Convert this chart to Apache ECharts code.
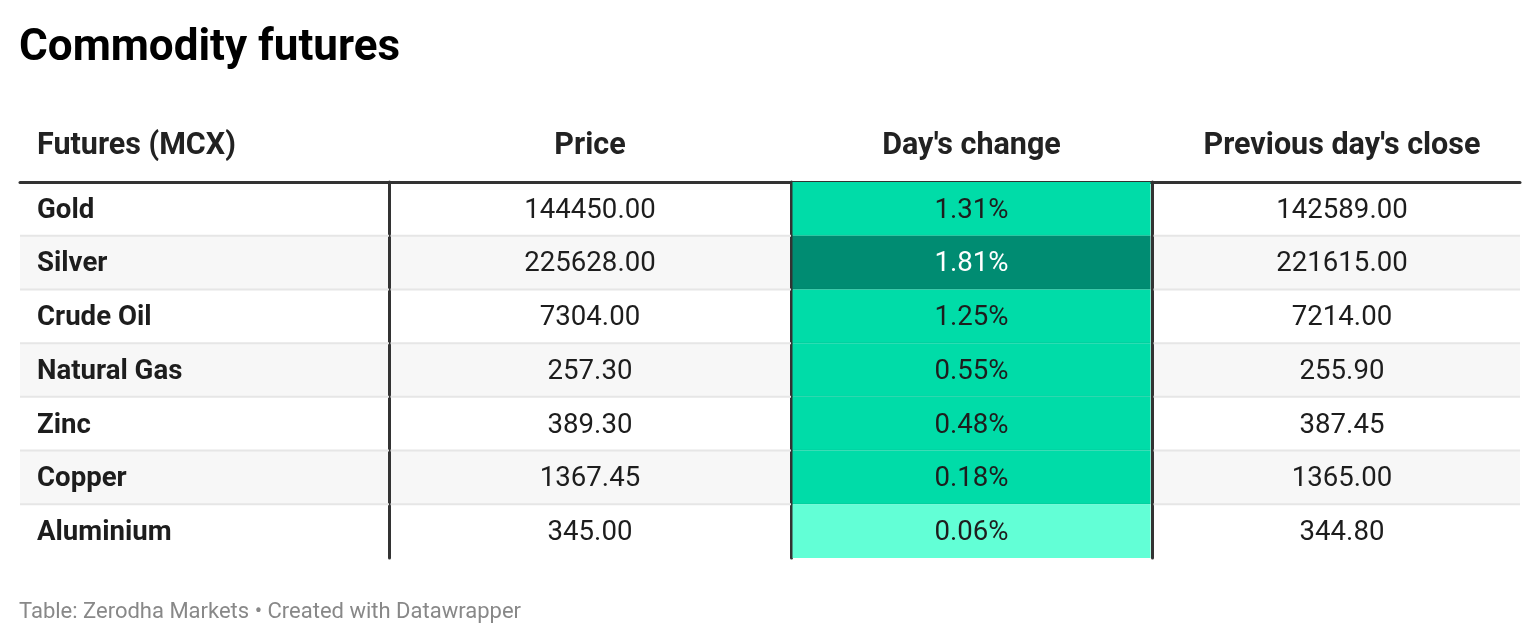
<!DOCTYPE html>
<html>
  <head>
    <meta http-equiv="Content-Type" content="text/html; charset=utf-8">
    <title>Commodity futures</title>
    <style>
      html, body { margin: 0; padding: 0; background: #fff; }
      #chart { width: 1540px; height: 644px; }
    </style>
    <script src="https://cdn.jsdelivr.net/npm/echarts@6/dist/echarts.min.js"></script>
  </head>
  <body>
    <div id="chart"></div>
    <script type="text/javascript">
      var columns = ['Futures (MCX)', 'Price', "Day's change", "Previous day's close"];
      var commodities = ['Gold', 'Silver', 'Crude Oil', 'Natural Gas', 'Zinc', 'Copper', 'Aluminium'];
      var prices = [144450.00, 225628.00, 7304.00, 257.30, 389.30, 1367.45, 345.00];
      var dayChange = [1.31, 1.81, 1.25, 0.55, 0.48, 0.18, 0.06];
      var prevClose = [142589.00, 221615.00, 7214.00, 255.90, 387.45, 1365.00, 344.80];

      var FONT = 'Roboto';
      // column layout (px)
      var colLeft = [20, 389, 791, 1152];
      var colWidth = [369, 402, 361, 368];
      var textShift = [0, 0, 0, 6];
      var tableTop = 182, tableHeight = 376;

      var myChart = echarts.init(document.getElementById('chart'));

      var grids = [], xAxes = [], yAxes = [], series = [];

      function cellData(col) {
        return commodities.map(function (name, r) {
          if (col === 0) return [0, r, name];
          if (col === 1) return [0, r, prices[r]];
          if (col === 2) return [0, r, dayChange[r]];
          return [0, r, prevClose[r]];
        });
      }

      function fmt(col, v) {
        if (col === 0) return v;
        if (col === 2) return v.toFixed(2) + '%';
        return v.toFixed(2);
      }

      columns.forEach(function (colName, i) {
        grids.push({ left: colLeft[i], top: tableTop, width: colWidth[i], height: tableHeight });
        xAxes.push({
          gridIndex: i, type: 'category', data: [colName], position: 'top',
          axisLine: { show: true, lineStyle: { color: '#333', width: 3 } },
          axisTick: { show: false },
          axisLabel: {
            show: i > 0, margin: 20, fontFamily: FONT, fontSize: 30.5, fontWeight: 'bold', color: '#222',
            padding: [0, 0, 0, textShift[i] * 2]
          }
        });
        yAxes.push({
          gridIndex: i, type: 'category', data: commodities, inverse: true,
          axisLine: { show: i > 0, lineStyle: { color: '#333', width: 3 } },
          axisTick: { show: false },
          axisLabel: { show: false },
          splitLine: { show: false },
          splitArea: { show: true, areaStyle: { color: ['#ffffff', '#f7f7f7'] } }
        });
        series.push({
          type: 'custom',
          xAxisIndex: i, yAxisIndex: i,
          data: cellData(i),
          encode: { x: 0, y: 1 },
          renderItem: function (params, api) {
            var p = api.coord([api.value(0), api.value(1)]);
            var s = api.size([1, 1]);
            var v = api.value(2);
            var x0 = p[0] - s[0] / 2, y1 = p[1] + s[1] / 2;
            var children = [];
            var color = '#1d1d1d';
            if (i === 2) {
              children.push({
                type: 'rect',
                shape: { x: x0 + 1.5, y: p[1] - s[1] / 2, width: s[0] - 3, height: s[1] },
                style: { fill: api.visual('color') }
              });
              if (v >= 1.5) color = '#ffffff';
            }
            if (params.dataIndex < commodities.length - 1) {
              children.push({
                type: 'line',
                shape: { x1: x0 + (i === 0 ? 0 : 1.5), y1: y1, x2: x0 + s[0] - (i === 2 ? 1.5 : 0), y2: y1 },
                style: { stroke: i === 2 ? 'rgba(0,0,0,0.06)' : '#e6e6e6', lineWidth: 2 }
              });
            }
            children.push({
              type: 'text',
              style: {
                x: i === 0 ? x0 + 17 : p[0] + textShift[i],
                y: p[1] + 2,
                text: fmt(i, v),
                fill: color,
                font: (i === 0 ? 'bold ' : '') + '27.6px ' + FONT,
                align: i === 0 ? 'left' : 'center',
                verticalAlign: 'middle'
              }
            });
            return { type: 'group', children: children };
          }
        });
      });

      myChart.setOption({
        animation: false,
        title: [
          { text: 'Commodity futures', left: 14, top: 22,
            textStyle: { fontFamily: FONT, fontSize: 44, fontWeight: 'bold', color: '#000' } },
          { text: 'Table: Zerodha Markets • Created with Datawrapper', left: 14, top: 596,
            textStyle: { fontFamily: FONT, fontSize: 22, fontWeight: 'normal', color: '#888' } }
        ],
        visualMap: {
          type: 'piecewise', show: false, seriesIndex: 2, dimension: 2,
          pieces: [
            { lt: 0.1, color: '#62ffd6' },
            { gte: 0.1, lt: 1.5, color: '#00dca8' },
            { gte: 1.5, color: '#008c72' }
          ]
        },
        grid: grids,
        xAxis: xAxes,
        yAxis: yAxes,
        graphic: [{
          type: 'text', left: 37, top: 131,
          style: { text: columns[0], font: 'bold 30.5px ' + FONT, fill: '#222' }
        }],
        series: series
      });
    </script>
  </body>
</html>
